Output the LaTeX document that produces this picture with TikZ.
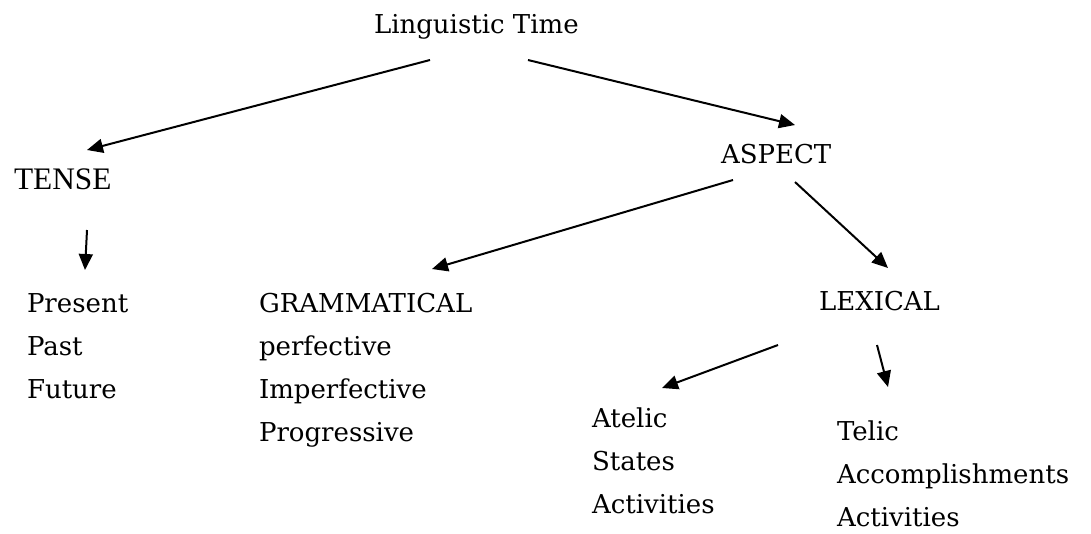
\documentclass[tikz,border=0pt]{standalone}
\usepackage{fontspec}
\setmainfont{DejaVu Serif}
\newfontfamily\tensefont{Liberation Serif}
\usetikzlibrary{arrows.meta,calc}

\begin{document}
\begin{tikzpicture}[>={Triangle[length=12pt,width=10.5pt]}, line width=1.5pt,
    x=0.75pt, y=-0.75pt,
    lbl/.style={inner sep=0pt, anchor=base west, align=left,
      font=\fontsize{19.5}{32.25}\selectfont}]
  \useasboundingbox (0,0) rectangle (1091,533);
  % base west of a list is the baseline of its last line
  \node[lbl] (lt) at (373,33) {Linguistic Time};
  \node[lbl, font=\tensefont\fontsize{23.5}{28}\selectfont] (tense) at (13,189) {TENSE};
  \node[lbl] (aspect) at (720,163) {ASPECT};
  \node[lbl] (tenses) at (26,398) {Present\\Past\\Future};
  \node[lbl] (gram) at (258,441) {GRAMMATICAL\\perfective\\Imperfective\\Progressive};
  \node[lbl] (lex) at (818,310) {LEXICAL};
  \node[lbl] (atelic) at (591,513) {Atelic\\States\\Activities};
  \node[lbl] (telic) at (836,526) {Telic\\Accomplishments\\Activities};
  % time -> tense / aspect
  \draw[->] ([shift={(57,27)}]lt.base west) -- ([shift={(74,-39)}]tense.base west);
  \draw[->] ([shift={(155,27)}]lt.base west) -- ([shift={(75,-38)}]aspect.base west);
  \draw[->] ([shift={(74,41)}]tense.base west) -- ([shift={(59,-128)}]tenses.base west);
  % aspect -> grammatical / lexical
  \draw[->] ([shift={(13,17)}]aspect.base west) -- ([shift={(174,-172)}]gram.base west);
  \draw[->] ([shift={(75,19)}]aspect.base west) -- ([shift={(70,-42)}]lex.base west);
  % lexical -> atelic / telic
  \draw[->] ([shift={(-40,35)}]lex.base west) -- ([shift={(71,-125)}]atelic.base west);
  \draw[->] ([shift={(59,35)}]lex.base west) -- ([shift={(52,-139)}]telic.base west);
\end{tikzpicture}
\end{document}
